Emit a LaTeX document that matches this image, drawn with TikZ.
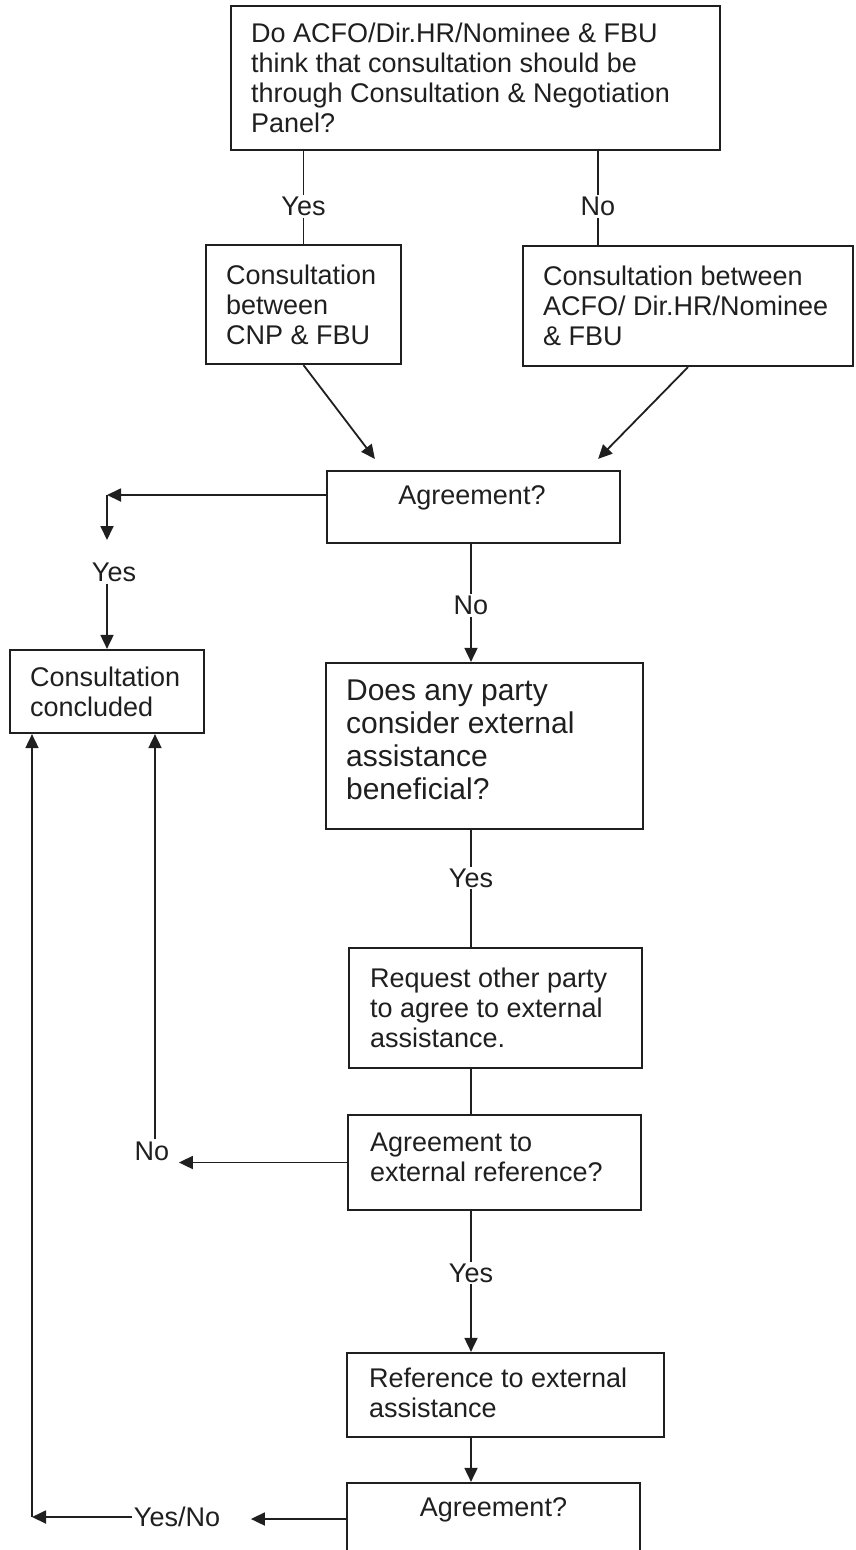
\documentclass[tikz,border=0pt]{standalone}
\usepackage{fontspec}
\setmainfont{Liberation Sans}
\usetikzlibrary{arrows.meta,calc}
\definecolor{ink}{HTML}{1F1F1F}
\begin{document}
\begin{tikzpicture}[x=1pt,y=-1pt,
  box/.style={draw=ink, line width=2.2pt, inner sep=0pt},
  txt/.style={text=ink, font=\fontsize{27}{30}\selectfont, align=left, inner sep=0pt},
  bigtxt/.style={text=ink, font=\fontsize{30}{33}\selectfont, align=left, inner sep=0pt},
  lbl/.style={text=ink, font=\fontsize{27}{30}\selectfont, fill=white, inner sep=2pt},
  conn/.style={draw=ink, line width=1.8pt},
  arr/.style={conn, -{Triangle[length=14pt,width=13pt]}}
]
\useasboundingbox (0,0) rectangle (855,1550);
\clip (0,0) rectangle (855,1550);

% boxes
\node[box, minimum width=489pt, minimum height=144pt] (q1) at (475.5,78) {};
\node[box, minimum width=195pt, minimum height=119pt] (cnp) at (303.5,304.5) {};
\node[box, minimum width=330pt, minimum height=120pt] (acfo) at (688,306) {};
\node[box, minimum width=293pt, minimum height=72pt] (agr1) at (473.5,507) {};
\node[box, minimum width=194pt, minimum height=83pt] (concl) at (107,691.5) {};
\node[box, minimum width=317pt, minimum height=166pt] (doesany) at (484.5,746) {};
\node[box, minimum width=293pt, minimum height=120pt] (request) at (495.5,1008) {};
\node[box, minimum width=293pt, minimum height=95pt] (agrext) at (494.5,1162.5) {};
\node[box, minimum width=317pt, minimum height=84pt] (reference) at (505.5,1395) {};
\node[box, minimum width=293pt, minimum height=72pt] (agr3) at (493.5,1519) {};

% texts
\node[txt, anchor=west] (q1t) at ([xshift=21pt]q1.west) {Do ACFO/Dir.HR/Nominee \& FBU\\think that consultation should be\\through Consultation \& Negotiation\\Panel?};
\node[txt, anchor=west] (cnpt) at ([xshift=21pt]cnp.west) {Consultation\\between\\CNP \& FBU};
\node[txt, anchor=west] (acfot) at ([xshift=21pt]acfo.west) {Consultation between\\ACFO/ Dir.HR/Nominee\\\& FBU};
\node[txt] (agr1t) at ([xshift=-1.5pt,yshift=9pt]agr1.center) {Agreement?};
\node[txt, anchor=west] (conclt) at ([xshift=21pt]concl.west) {Consultation\\concluded};
\node[bigtxt, anchor=west] (doesanyt) at ([xshift=21pt,yshift=6pt]doesany.west) {Does any party\\consider external\\assistance\\beneficial?};
\node[txt, anchor=west] (requestt) at ([xshift=22pt]request.west) {Request other party\\to agree to external\\assistance.};
\node[txt, anchor=west] (agrextt) at ([xshift=23pt,yshift=5pt]agrext.west) {Agreement to\\external reference?};
\node[txt, anchor=west] (referencet) at ([xshift=23pt,yshift=2pt]reference.west) {Reference to external\\assistance};
\node[txt] (agr3t) at ([yshift=9pt]agr3.center) {Agreement?};

% top branches
\draw[conn] (cnp.north |- q1.south) -- node[lbl, pos=0.6] {Yes} (cnp.north);
\coordinate (noX) at (598,0);
\draw[conn] (noX |- q1.south) -- node[lbl, pos=0.59] {No} (noX |- acfo.north);
\coordinate (agrInL) at ($(agr1.north west)+(49,-11)$);
\coordinate (agrInR) at ($(agr1.north east)+(-23,-11)$);
\draw[arr] (cnp.south) -- (agrInL);
\draw[arr] (acfo.south) -- (agrInR);

% yes branch from first agreement
\coordinate (agrOut) at ($(agr1.west)+(0,-12)$);
\coordinate (yesCorner) at (concl.north |- agrOut);
\draw[arr] (agrOut) -- (yesCorner);
\draw[arr] (yesCorner) -- ++(0,45);
\node[lbl] (yes2) at ($(concl.north)+(7,-77)$) {Yes};
\draw[arr] (concl.north |- yes2.south) -- (concl.north);

% main spine
\coordinate (spine) at (471,0);
\draw[arr] (spine |- agr1.south) -- node[lbl, pos=0.52] {No} (spine |- doesany.north);
\draw[conn] (spine |- doesany.south) -- node[lbl, pos=0.41] {Yes} (spine |- request.north);
\draw[conn] (spine |- request.south) -- (spine |- agrext.north);
\draw[arr] (spine |- agrext.south) -- node[lbl, pos=0.44] {Yes} (spine |- reference.north);
\draw[arr] (spine |- reference.south) -- (spine |- agr3.north);

% no branch from external reference
\coordinate (noTip) at ($(agrext.west)+(-168,0)$);
\draw[arr] (agrext.west) -- (noTip);
\node[lbl] (no2) at (152,1151) {No};
\coordinate (noUp) at ([xshift=3pt]no2.north);
\draw[arr] (noUp) -- (noUp |- concl.south);

% final agreement
\coordinate (ynTip) at ($(agr3.west)+(-95,0)$);
\draw[arr] (agr3.west) -- (ynTip);
\node[lbl] (yesno) at (177,1517) {Yes/No};
\coordinate (corner) at (32,1517);
\draw[arr] (yesno.west) -- (corner);
\draw[arr] (corner) -- (corner |- concl.south);
\end{tikzpicture}
\end{document}
